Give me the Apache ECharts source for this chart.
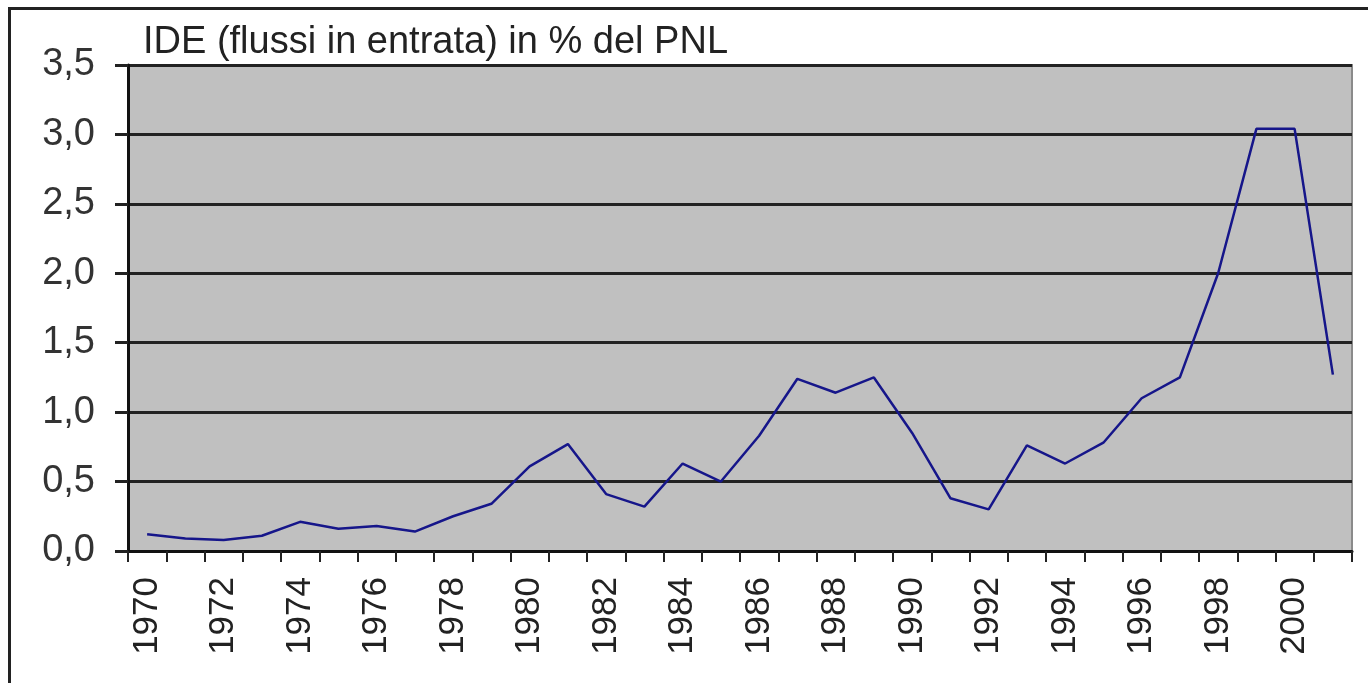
<!DOCTYPE html>
<html>
<head>
<meta charset="utf-8">
<script src="https://cdn.jsdelivr.net/npm/echarts@6/dist/echarts.min.js"></script>
<style>
  html, body { margin: 0; padding: 0; background: #fff; }
  #chart1 { width: 1368px; height: 683px; position: relative; }
  #cornice {
    position: absolute; left: 8px; top: 7px; width: 1400px; height: 700px;
    border-top: 3px solid #222; border-left: 3px solid #222; pointer-events: none;
  }
</style>
</head>
<body>
<div id="chart1"></div>
<div id="cornice"></div>
<script>
const anni = ['1970','1971','1972','1973','1974','1975','1976','1977','1978','1979',
  '1980','1981','1982','1983','1984','1985','1986','1987','1988','1989',
  '1990','1991','1992','1993','1994','1995','1996','1997','1998','1999',
  '2000','2001'];
const valoriIDE = [0.12, 0.09, 0.08, 0.11, 0.21, 0.16, 0.18, 0.14, 0.25, 0.34,
  0.61, 0.77, 0.41, 0.32, 0.63, 0.50, 0.83, 1.24, 1.14, 1.25,
  0.85, 0.38, 0.30, 0.76, 0.63, 0.78, 1.10, 1.25, 2.00, 3.04,
  3.04, 1.27];
const titolo = 'IDE (flussi in entrata) in % del PNL';

const getOptionChart1 = () => {
  return {
    animation: false,
    title: {
      text: titolo,
      left: 138,
      top: 19,
      textStyle: { fontFamily: 'Liberation Sans', fontSize: 38, fontWeight: 'normal', color: '#222' }
    },
    grid: { left: 128, right: 16, top: 65, bottom: 132, show: true,
      backgroundColor: '#c0c0c0', borderColor: '#8a8a8a', borderWidth: 2 },
    xAxis: {
      type: 'category',
      data: anni,
      boundaryGap: true,
      axisLine: { lineStyle: { color: '#111', width: 3 } },
      axisTick: { show: true, interval: 0, length: 11, lineStyle: { color: '#222', width: 2 } },
      axisLabel: { interval: 1, rotate: 90, margin: 26, fontFamily: 'Liberation Sans',
        fontSize: 35, color: '#222' },
      splitLine: { show: false }
    },
    yAxis: {
      type: 'value',
      min: 0, max: 3.5, interval: 0.5,
      axisLine: { show: true, lineStyle: { color: '#111', width: 3 } },
      axisTick: { show: true, length: 13, lineStyle: { color: '#222', width: 3 } },
      axisLabel: { margin: 33, fontFamily: 'Liberation Sans', fontSize: 38, color: '#333',
        formatter: v => v.toFixed(1).replace('.', ',') },
      splitLine: { lineStyle: { color: '#222', width: 3 } }
    },
    series: [{
      type: 'line',
      data: valoriIDE,
      symbol: 'none',
      lineStyle: { color: '#16168a', width: 2.5 }
    }]
  };
};

const chart1 = echarts.init(document.querySelector('#chart1'));
chart1.setOption(getOptionChart1());
</script>
</body>
</html>
